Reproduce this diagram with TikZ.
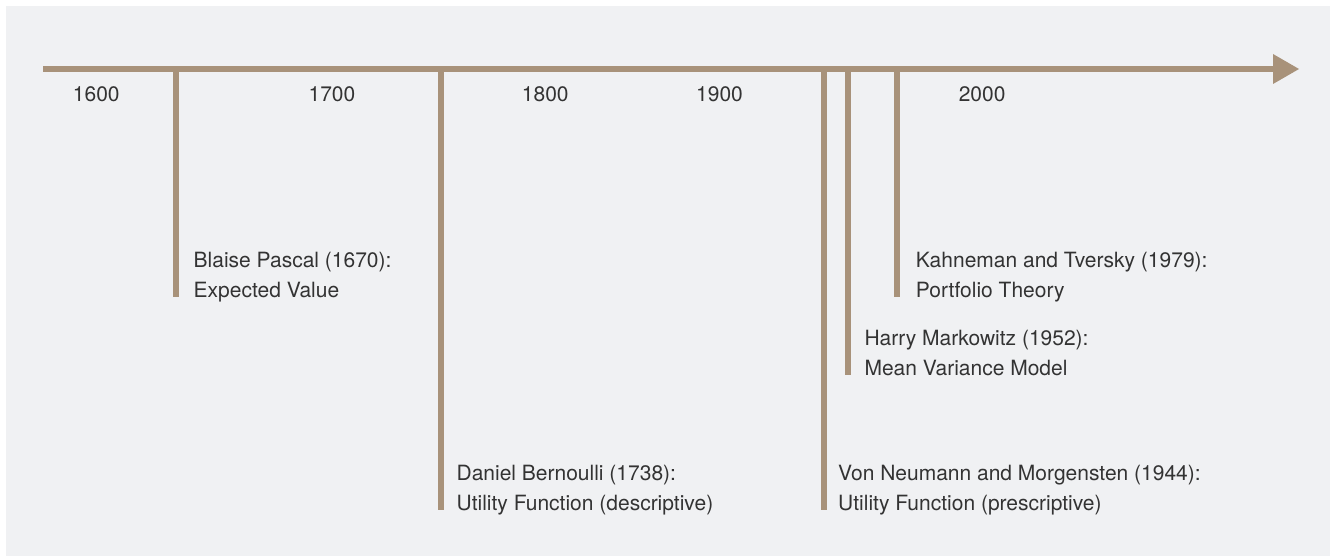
\documentclass[tikz,border=0pt]{standalone}
\usepackage{fontspec}
\setmainfont{TeX Gyre Heros}
\definecolor{bgc}{HTML}{F0F1F3}
\definecolor{tan}{HTML}{A8927A}
\definecolor{txt}{HTML}{333333}
\tikzset{
  drop/.style={draw=tan, line width=6pt},
  lbl/.style={anchor=base west, inner sep=0pt, text=txt, font=\fontsize{21}{25}\selectfont},
  yr/.style={lbl}
}
\begin{document}
\begin{tikzpicture}[x=1pt,y=-1pt]
\useasboundingbox (0,0) rectangle (1330,556);
\fill[white] (0,0) rectangle (1330,556);
\fill[bgc] (6,6) rectangle (1330,556);
% timeline
\coordinate (start) at (43,69);
\coordinate (abase) at (1273,69);
\coordinate (tip) at (1299,69);
\draw[tan, line width=6pt] (start) -- (abase);
\fill[tan] (tip) -- ([yshift=-15pt]abase) -- ([yshift=15pt]abase) -- cycle;
% years
\node[yr] (y1600) at (72.7,101.7) {1600};
\node[yr] (y1700) at (308.4,101.7) {1700};
\node[yr] (y1800) at (521.7,101.7) {1800};
\node[yr] (y1900) at (696,101.7) {1900};
\node[yr] (y2000) at (958.6,101.7) {2000};
% drops
\coordinate (pT) at (175.7,69); \coordinate (pB) at (175.7,297);
\coordinate (bT) at (441,69);   \coordinate (bB) at (441,510);
\coordinate (vT) at (823.7,69); \coordinate (vB) at (823.7,510);
\coordinate (mT) at (848,69);   \coordinate (mB) at (848,375);
\coordinate (kT) at (897,69);   \coordinate (kB) at (897,297);
\draw[drop] (pT) -- (pB);
\draw[drop] (bT) -- (bB);
\draw[drop] (vT) -- (vB);
\draw[drop] (mT) -- (mB);
\draw[drop] (kT) -- (kB);
% labels
\node[lbl] (p1) at (193.5,267.5) {Blaise Pascal (1670):};
\node[lbl] (p2) at (193.5,297) {Expected Value};
\node[lbl] (b1) at (456.4,480.5) {Daniel Bernoulli (1738):};
\node[lbl] (b2) at (456.4,510) {Utility Function (descriptive)};
\node[lbl] (v1) at (838,480.5) {Von Neumann and Morgensten (1944):};
\node[lbl] (v2) at (838,510) {Utility Function (prescriptive)};
\node[lbl] (m1) at (864.3,345.5) {Harry Markowitz (1952):};
\node[lbl] (m2) at (864.3,375) {Mean Variance Model};
\node[lbl] (k1) at (915.7,267.5) {Kahneman and Tversky (1979):};
\node[lbl] (k2) at (915.7,297) {Portfolio Theory};
\end{tikzpicture}
\end{document}
